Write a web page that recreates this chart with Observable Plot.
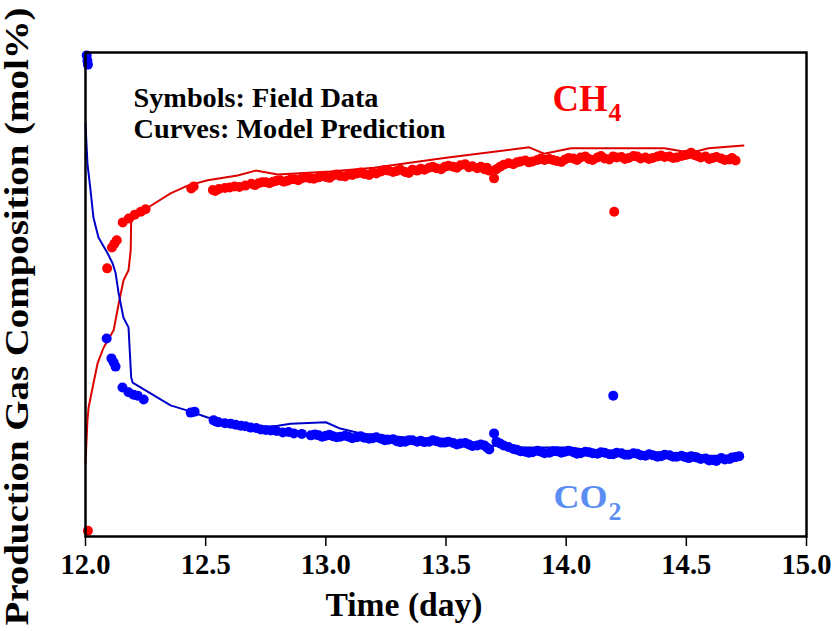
<!DOCTYPE html>
<html>
<head>
<meta charset="utf-8">
<script src="https://cdn.jsdelivr.net/npm/d3@7"></script>
<script src="https://cdn.jsdelivr.net/npm/@observablehq/plot@0.6"></script>
<style>
  html, body { margin: 0; padding: 0; background: #fff; }
</style>
</head>
<body>
<div id="chart"></div>
<script>
// ---- Data ----
const xTicks = [12.0, 12.5, 13.0, 13.5, 14.0, 14.5, 15.0];

// CH4 field data (symbols)
const ch4FieldTime = [12.01, 12.09, 12.11, 12.12, 12.13, 12.155, 12.18, 12.205, 12.23, 12.25, 12.44, 12.45,
  12.53, 12.54, 12.555, 12.58, 12.60, 12.62, 12.64, 12.665, 12.69, 12.705, 12.72, 12.735, 12.75, 12.765,
  12.78, 12.795, 12.81, 12.825, 12.84, 12.855, 12.87, 12.885, 12.90, 12.92, 12.935, 12.95, 12.97, 12.985,
  13.00, 13.015, 13.03, 13.045, 13.06, 13.08, 13.095, 13.11, 13.13, 13.145, 13.16, 13.18, 13.195, 13.21,
  13.23, 13.245, 13.26, 13.28, 13.295, 13.31, 13.33, 13.345, 13.36, 13.38, 13.395, 13.41, 13.43, 13.445,
  13.46, 13.48, 13.495, 13.51, 13.53, 13.545, 13.56, 13.58, 13.595, 13.61, 13.63, 13.645, 13.66, 13.67,
  13.68, 13.70, 13.71, 13.725, 13.74, 13.76, 13.78, 13.795, 13.81, 13.83, 13.845, 13.86, 13.88, 13.895,
  13.91, 13.93, 13.945, 13.96, 13.98, 13.995, 14.01, 14.03, 14.045, 14.06, 14.08, 14.095, 14.11, 14.13,
  14.145, 14.16, 14.18, 14.195, 14.20, 14.21, 14.23, 14.245, 14.26, 14.28, 14.295, 14.31, 14.33, 14.345,
  14.36, 14.38, 14.395, 14.41, 14.43, 14.445, 14.46, 14.48, 14.495, 14.51, 14.52, 14.535, 14.545, 14.56,
  14.58, 14.595, 14.61, 14.625, 14.645, 14.66, 14.68, 14.69, 14.705];
const ch4FieldValue = [1.2, 55.4, 59.7, 60.5, 61.2, 64.9, 65.7, 66.5, 67.1, 67.6, 71.9, 72.3,
  71.6, 71.4, 71.8, 72.0, 72.1, 72.3, 72.2, 72.5, 72.9, 72.6, 73.0, 73.2, 73.2, 73.0,
  73.3, 73.5, 73.6, 73.3, 73.5, 73.8, 73.8, 73.6, 74.0, 74.2, 74.0, 73.9, 74.2, 74.5,
  74.3, 74.1, 74.6, 74.8, 74.5, 74.4, 74.8, 74.7, 75.0, 75.2, 74.9, 74.7, 75.2, 75.0,
  75.4, 75.7, 75.6, 75.3, 75.5, 75.8, 75.3, 75.1, 75.8, 75.6, 76.0, 75.8, 76.2, 76.4,
  76.1, 75.9, 76.4, 76.6, 76.4, 76.2, 76.7, 76.9, 76.3, 76.5, 76.1, 76.4, 75.9, 76.2,
  75.6, 74.0, 75.9, 76.4, 76.8, 77.1, 76.9, 77.3, 77.5, 77.7, 77.3, 77.5, 77.8, 78.1,
  77.8, 78.0, 77.8, 77.6, 77.4, 77.9, 78.2, 78.1, 77.8, 78.3, 78.5, 78.0, 77.8, 78.3,
  78.6, 78.1, 77.9, 78.5, 67.1, 78.3, 78.4, 78.0, 78.2, 78.6, 78.5, 78.1, 78.3, 78.0,
  78.2, 78.5, 78.7, 78.4, 78.5, 78.2, 78.3, 78.6, 78.8, 79.0, 79.3, 78.8, 78.6, 78.3,
  78.5, 78.0, 78.2, 78.4, 78.1, 77.8, 77.9, 78.2, 77.7];

// CO2 field data (symbols)
const co2FieldTime = [12.005, 12.008, 12.01, 12.088, 12.108, 12.117, 12.125, 12.154, 12.179, 12.20, 12.217, 12.242,
  12.4375, 12.454, 12.533, 12.545, 12.554, 12.58, 12.604, 12.625, 12.646, 12.665, 12.6875, 12.71, 12.729,
  12.75, 12.771, 12.795, 12.821, 12.845, 12.867, 12.90, 12.9375, 12.955, 12.97, 12.985, 13.00, 13.015,
  13.03, 13.045, 13.06, 13.08, 13.095, 13.11, 13.13, 13.145, 13.16, 13.18, 13.195, 13.21, 13.23, 13.245,
  13.26, 13.28, 13.295, 13.31, 13.33, 13.345, 13.36, 13.38, 13.395, 13.41, 13.43, 13.445, 13.46, 13.48,
  13.495, 13.51, 13.53, 13.545, 13.56, 13.58, 13.595, 13.61, 13.63, 13.645, 13.66, 13.67, 13.68, 13.70,
  13.71, 13.725, 13.74, 13.76, 13.78, 13.795, 13.81, 13.83, 13.845, 13.86, 13.88, 13.895, 13.91, 13.93,
  13.945, 13.96, 13.98, 13.995, 14.01, 14.03, 14.045, 14.06, 14.08, 14.095, 14.11, 14.13, 14.145, 14.16,
  14.18, 14.195, 14.196, 14.21, 14.23, 14.245, 14.26, 14.28, 14.295, 14.31, 14.33, 14.345, 14.36, 14.38,
  14.395, 14.41, 14.43, 14.445, 14.46, 14.48, 14.495, 14.51, 14.52, 14.535, 14.545, 14.56, 14.58, 14.595,
  14.61, 14.625, 14.645, 14.66, 14.68, 14.69, 14.705, 14.72];
const co2FieldValue = [99.4, 98.3, 97.5, 40.9, 36.8, 36.0, 35.1, 30.8, 29.8, 29.3, 29.1, 28.3,
  25.6, 25.8, 24.0, 23.7, 23.6, 23.4, 23.3, 23.1, 22.9, 22.8, 22.5, 22.4, 22.1,
  22.0, 21.9, 21.8, 21.5, 21.6, 21.3, 21.2, 20.9, 21.1, 20.9, 20.6, 20.8, 21.0,
  20.7, 20.5, 20.6, 20.8, 20.6, 20.3, 20.5, 20.7, 20.4, 20.2, 20.3, 20.5, 20.2, 19.9,
  20.0, 20.1, 19.7, 19.5, 19.6, 19.9, 19.9, 19.6, 19.8, 19.5, 19.6, 19.9, 19.7, 19.4,
  19.4, 19.6, 19.3, 19.0, 19.2, 19.3, 19.0, 18.7, 18.8, 19.0, 18.8, 18.4, 18.0, 21.3,
  19.6, 19.2, 18.8, 18.5, 18.1, 17.9, 17.6, 17.5, 17.3, 17.4, 17.7, 17.5, 17.2, 17.3,
  17.6, 17.6, 17.3, 17.5, 17.7, 17.4, 17.1, 17.2, 17.5, 17.4, 17.2, 17.1, 17.4, 17.3,
  17.0, 17.0, 29.1, 17.3, 17.2, 16.9, 16.9, 17.2, 17.1, 16.8, 16.7, 17.0, 16.8, 16.5,
  16.6, 16.9, 16.8, 16.5, 16.5, 16.7, 16.4, 16.2, 16.6, 16.4, 16.3, 16.0, 16.1, 15.7,
  15.8, 15.6, 16.2, 15.9, 16.0, 16.3, 16.4, 16.6];

// CH4 model prediction (curve)
const ch4ModelTime = [12.0, 12.008, 12.013, 12.033, 12.05, 12.075, 12.117, 12.138, 12.158, 12.179, 12.188, 12.19,
  12.208, 12.242, 12.354, 12.425, 12.508, 12.633, 12.708, 12.8, 13.02, 13.2, 13.508, 13.846, 13.908,
  14.02, 14.2, 14.408, 14.52, 14.592, 14.7375];
const ch4ModelValue = [15.1, 24.0, 26.7, 31.6, 35.7, 39.0, 42.6, 48.1, 52.9, 55.0, 59.1, 64.9,
  66.3, 67.4, 70.9, 72.5, 73.6, 74.6, 75.6, 74.8, 75.4, 76.2, 78.3, 80.4, 79.1,
  80.2, 80.2, 80.2, 79.3, 80.2, 80.8];

// CO2 model prediction (curve)
const co2ModelTime = [12.0, 12.008, 12.021, 12.033, 12.054, 12.092, 12.113, 12.125, 12.138, 12.158, 12.179, 12.19,
  12.196, 12.354, 12.425, 12.508, 12.617, 12.729, 12.8, 12.854, 13.0, 13.06, 13.146, 13.396, 13.604,
  13.8125, 14.02, 14.146, 14.396, 14.5625, 14.73];
const co2ModelValue = [85.3, 77.1, 71.5, 65.9, 61.8, 58.5, 56.4, 54.5, 50.2, 45.2, 43.2, 32.9,
  31.8, 27.1, 26.0, 24.6, 23.6, 22.5, 22.9, 23.3, 23.6, 22.3, 21.3, 20.2, 19.0,
  18.4, 18.4, 17.4, 17.4, 16.7, 16.7];

// ---- Tables ----
const zip = (ts, vs) => ts.map((t, i) => ({t, v: vs[i]}));
const ch4Field = zip(ch4FieldTime, ch4FieldValue);
const co2Field = zip(co2FieldTime, co2FieldValue);
const ch4Model = zip(ch4ModelTime, ch4ModelValue);
const co2Model = zip(co2ModelTime, co2ModelValue);

const serif = "'Liberation Serif', 'DejaVu Serif', serif";
const txt = (s, o) => Plot.text([s], {text: d => d, fontFamily: serif, fontWeight: "bold", lineAnchor: "bottom", ...o});

const chart = Plot.plot({
  width: 840,
  height: 631,
  marginLeft: 85,
  marginRight: 34,
  marginTop: 52,
  marginBottom: 95,
  style: {background: "#fff", fontFamily: serif, overflow: "visible"},
  x: {domain: [12, 15]},
  y: {domain: [0, 100]},
  marks: [
    Plot.line(ch4Model, {x: "t", y: "v", stroke: "#dd0000", strokeWidth: 2}),
    Plot.line(co2Model, {x: "t", y: "v", stroke: "#0000c8", strokeWidth: 2}),
    Plot.dot(ch4Field, {x: "t", y: "v", r: 5, fill: "#ff0000", stroke: "none"}),
    Plot.dot(co2Field, {x: "t", y: "v", r: 5, fill: "#0000ff", stroke: "none"}),
    Plot.frame({stroke: "#000", strokeWidth: 2.5}),
    Plot.axisX({ticks: xTicks, tickFormat: d => d.toFixed(1), tickSize: 10, tickPadding: 6,
      fontSize: 30, fontWeight: "bold", fontFamily: serif, fill: "#000", stroke: "#000", strokeWidth: 1.5, label: null}),
    Plot.axisY({ticks: [], label: null}),
    txt("Symbols: Field Data", {frameAnchor: "top-left", dx: 48, dy: 54, textAnchor: "start", fontSize: 28, fill: "#000"}),
    txt("Curves: Model Prediction", {frameAnchor: "top-left", dx: 48, dy: 85, textAnchor: "start", fontSize: 28, fill: "#000"}),
    txt("CH", {frameAnchor: "top-left", dx: 467, dy: 58, textAnchor: "start", fontSize: 38, fill: "#ff0000"}),
    txt("4", {frameAnchor: "top-left", dx: 523, dy: 68, textAnchor: "start", fontSize: 26, fill: "#ff0000"}),
    txt("CO", {frameAnchor: "top-left", dx: 468, dy: 455, textAnchor: "start", fontSize: 34, fill: "#5b8ef2"}),
    txt("2", {frameAnchor: "top-left", dx: 523, dy: 467, textAnchor: "start", fontSize: 26, fill: "#5b8ef2"}),
    txt("Time (day)", {frameAnchor: "bottom", dx: -42, dy: 79, textAnchor: "middle", fontSize: 33, fill: "#000"}),
    txt("Production Gas Composition (mol%)", {frameAnchor: "left", dx: -58, dy: 22, rotate: -90, textAnchor: "middle", fontSize: 33, fill: "#000"})
  ]
});

// fit text lengths to the reference
const lengths = {
  "Symbols: Field Data": 245, "Curves: Model Prediction": 312, "CH": 55, "CO": 54,
  "Time (day)": 157, "Production Gas Composition (mol%)": 618
};
xTicks.forEach(t => lengths[t.toFixed(1)] = 50);
d3.select(chart).selectAll("text").each(function() {
  const s = this.textContent;
  if (lengths[s]) {
    d3.select(this).attr("textLength", lengths[s]).attr("lengthAdjust", "spacingAndGlyphs");
  }
});

document.getElementById("chart").appendChild(chart);
</script>
</body>
</html>
